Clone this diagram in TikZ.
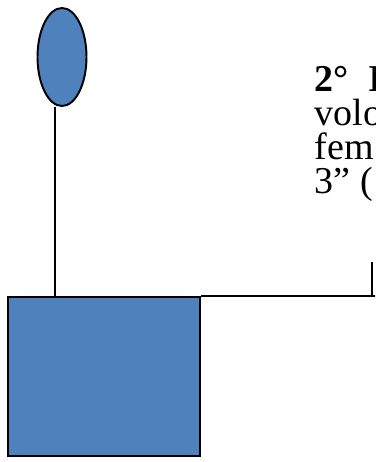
\documentclass[tikz,border=0pt]{standalone}
\usepackage{fontspec}
\setmainfont{Liberation Serif}
\usepackage{xcolor}
\definecolor{figBlue}{HTML}{4F81BD}
\usepackage{tikz}
\usetikzlibrary{shapes.geometric}

\begin{document}
\begin{tikzpicture}[line width=1.1pt]
  \useasboundingbox (0,0) rectangle (7.5,9.24);
  \clip (0,0) rectangle (7.5,9.24);
  % the head and the body
  \node[ellipse, draw, fill=figBlue, minimum width=0.98cm, minimum height=1.96cm, inner sep=0pt]
    (head) at (1.24,8.10) {};
  \node[draw, fill=figBlue, minimum width=3.84cm, minimum height=3.18cm, inner sep=0pt,
    anchor=north west] (body) at (0.14,3.32) {};
  % the stem and the lead to the text
  \coordinate (stem) at (1.10,3.32);
  \coordinate (tick) at (7.44,4.00);
  \draw (stem |- head.south) -- (stem);
  \draw (body.north east) -- (body.north east -| tick) -- (tick);
  \draw (body.north east -| tick) -- ++(0.2,0);
  % the note, cut by the right edge (base = its last line)
  \node[anchor=base west, align=left, inner sep=0pt, font=\fontsize{21.6}{19.4}\selectfont]
    (note) at (6.28,5.36)
    {\textbf{2°\ \ I}\\ volo\\ fem\\ 3” (};
\end{tikzpicture}
\end{document}
